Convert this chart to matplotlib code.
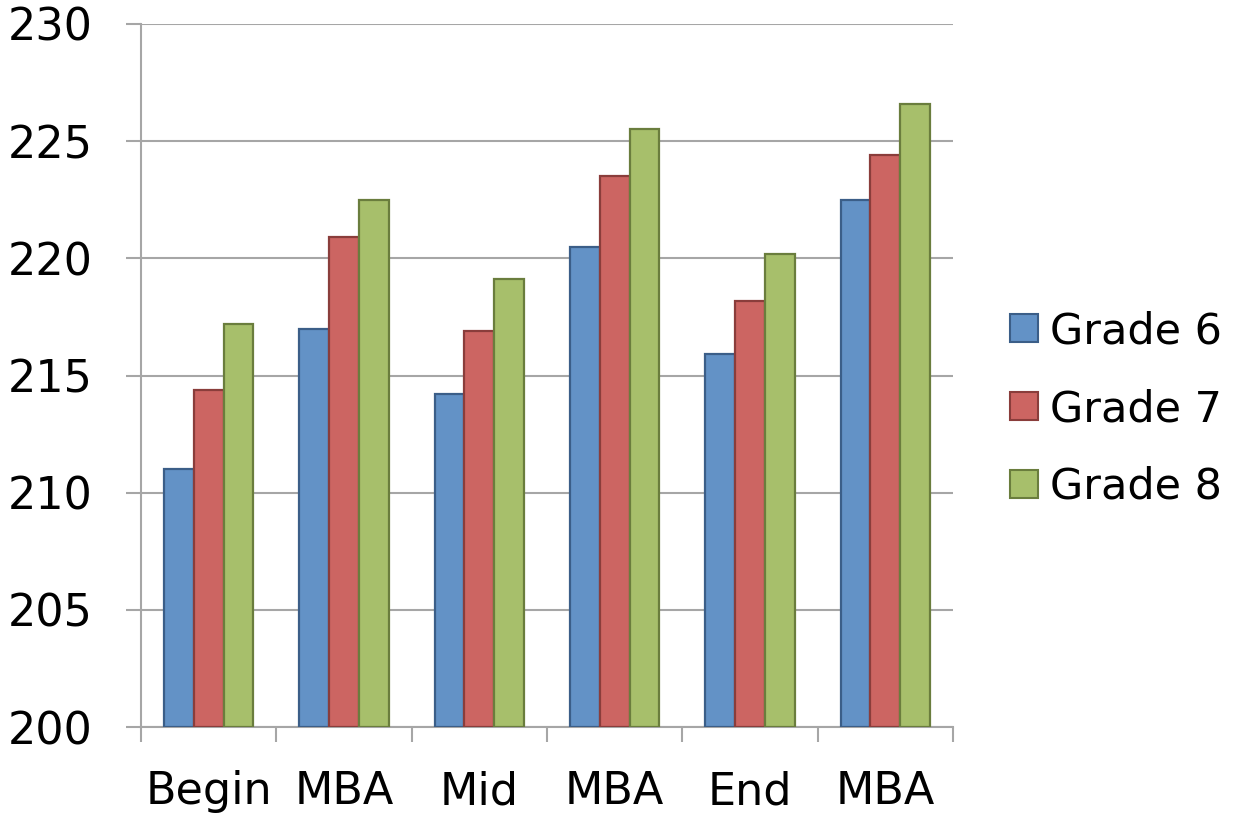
import numpy as np
import matplotlib.pyplot as plt
from matplotlib.lines import Line2D

categories = ["Begin", "MBA", "Mid", "MBA", "End", "MBA"]
series_names = ["Grade 6", "Grade 7", "Grade 8"]
grade6 = [211.0, 217.0, 214.2, 220.5, 215.9, 222.5]
grade7 = [214.4, 220.9, 216.9, 223.5, 218.2, 224.4]
grade8 = [217.2, 222.5, 219.1, 225.5, 220.2, 226.6]

fills = ["#6392C6", "#CC6562", "#A7BF6B"]
edges = ["#3B5E88", "#8A3D3B", "#6A7D3D"]
grid_col = "#A6A6A6"

plt.rcParams.update({"font.family": "DejaVu Sans", "font.size": 32})

fig = plt.figure(figsize=(12.48, 8.18), dpi=100)
ax = fig.add_axes([0.113, 0.1112, 0.6506, 0.8595])

x = np.arange(len(categories))
w = 0.22
for k, vals in enumerate([grade6, grade7, grade8]):
    heights = np.array(vals) - 200
    ax.bar(x + (k - 1) * w, heights, width=w, bottom=200, color=fills[k],
           edgecolor=edges[k], linewidth=1.6, zorder=3)

ax.set_xlim(-0.5, len(categories) - 0.5)
ax.set_ylim(200, 230)
ax.set_yticks(np.arange(200, 231, 5))
ax.grid(axis="y", color=grid_col, linewidth=1.5, zorder=0)

# labels sit under each group, small tick marks between groups
ax.set_xticks(x)
ax.set_xticklabels(categories)
ax.set_xticks(np.arange(-0.5, len(categories)), minor=True)
ax.tick_params(axis="x", which="major", length=0, pad=31)
ax.tick_params(axis="x", which="minor", length=11, width=1.5, color=grid_col)
ax.tick_params(axis="y", length=11, width=1.5, color=grid_col, pad=24)

for s in ["top", "right"]:
    ax.spines[s].set_visible(False)
for s in ["left", "bottom"]:
    ax.spines[s].set_color(grid_col)
    ax.spines[s].set_linewidth(1.5)

handles = [Line2D([], [], marker="s", linestyle="none", markersize=20,
                  markerfacecolor=fills[k], markeredgecolor=edges[k],
                  markeredgewidth=1.5) for k in range(3)]
fig.legend(handles, series_names, loc="center left", bbox_to_anchor=(0.8085, 0.5),
           frameon=False, handletextpad=0.26, labelspacing=0.83,
           borderpad=0, borderaxespad=0, handlelength=0.7, fontsize=31)

fig.savefig("out.png", dpi=100)
